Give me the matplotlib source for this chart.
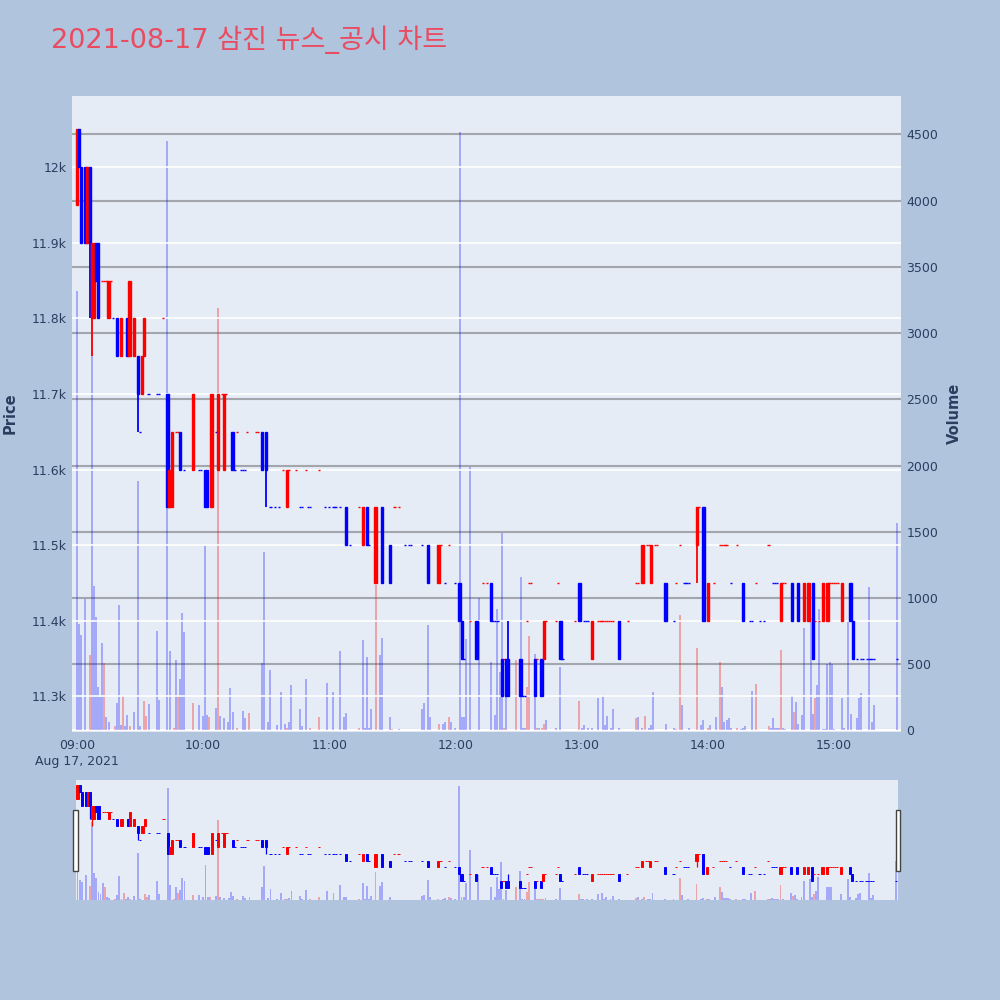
import matplotlib
matplotlib.use('Agg')
import matplotlib.pyplot as plt
from matplotlib.patches import Rectangle

plt.rcParams['font.family'] = ['DejaVu Sans', 'Noto Sans CJK KR']

## DATA (minutes after 09:00)
c_min = [0, 1, 2, 4, 5, 6, 7, 8, 9, 10,
         12, 13, 14, 15, 16, 17, 19, 21, 24, 25,
         27, 29, 30, 31, 32, 34, 38, 39, 41, 43,
         44, 45, 47, 48, 49, 51, 55, 58, 59, 61,
         62, 64, 66, 67, 69, 70, 71, 74, 75, 76,
         78, 79, 80, 81, 85, 86, 88, 90, 92, 94,
         96, 98, 100, 101, 104, 106, 107, 109, 110, 111,
         115, 118, 120, 122, 123, 125, 128, 130, 134, 136,
         138, 139, 142, 145, 149, 151, 153, 156, 158, 159,
         164, 167, 172, 173, 175, 177, 180, 182, 183, 184,
         187, 190, 193, 195, 197, 198, 199, 200, 202, 203,
         204, 205, 211, 212, 213, 214, 215, 216, 218, 219,
         221, 222, 223, 228, 229, 230, 231, 237, 239, 241,
         242, 243, 245, 248, 249, 250, 251, 252, 253, 254,
         255, 258, 262, 266, 267, 269, 271, 272, 273, 275,
         276, 280, 284, 285, 287, 289, 290, 291, 295, 296,
         298, 300, 303, 306, 307, 308, 309, 311, 314, 317,
         320, 321, 323, 325, 327, 329, 331, 332, 333, 335,
         336, 337, 340, 343, 346, 348, 350, 351, 353, 355,
         357, 358, 359, 360, 361, 362, 364, 368, 369, 371,
         373, 374, 376, 377, 378, 379, 390]
c_open = [11950, 12050, 12000, 12000, 11900, 12000, 11800, 11800, 11900, 11900,
          11850, 11850, 11850, 11800, 11850, 11800, 11800, 11750, 11800, 11750,
          11750, 11750, 11650, 11700, 11750, 11700, 11700, 11700, 11800, 11700,
          11550, 11550, 11650, 11650, 11650, 11600, 11600, 11600, 11600, 11600,
          11600, 11550, 11650, 11600, 11700, 11600, 11700, 11650, 11600, 11650,
          11600, 11600, 11600, 11650, 11650, 11650, 11650, 11650, 11550, 11550,
          11550, 11600, 11550, 11600, 11600, 11550, 11550, 11600, 11550, 11550,
          11600, 11550, 11550, 11550, 11550, 11550, 11550, 11500, 11550, 11500,
          11550, 11500, 11450, 11550, 11500, 11550, 11550, 11500, 11500, 11500,
          11500, 11500, 11450, 11500, 11450, 11500, 11450, 11450, 11400, 11350,
          11400, 11400, 11450, 11450, 11450, 11400, 11400, 11400, 11350, 11350,
          11350, 11350, 11350, 11300, 11300, 11400, 11450, 11450, 11350, 11350,
          11350, 11350, 11400, 11400, 11450, 11400, 11350, 11400, 11450, 11400,
          11400, 11400, 11350, 11400, 11400, 11400, 11400, 11400, 11400, 11400,
          11400, 11400, 11400, 11450, 11450, 11450, 11500, 11500, 11450, 11500,
          11500, 11450, 11400, 11450, 11500, 11450, 11450, 11450, 11500, 11550,
          11550, 11400, 11450, 11500, 11500, 11500, 11500, 11450, 11500, 11450,
          11400, 11400, 11450, 11400, 11400, 11500, 11450, 11450, 11450, 11400,
          11450, 11450, 11450, 11450, 11400, 11400, 11450, 11400, 11400, 11400,
          11400, 11450, 11450, 11450, 11450, 11450, 11400, 11450, 11400, 11350,
          11350, 11350, 11350, 11350, 11350, 11350, 11350]
c_close = [12050, 12000, 11900, 11900, 12000, 11900, 11900, 11900, 11850, 11800,
           11850, 11850, 11850, 11850, 11850, 11800, 11750, 11800, 11750, 11850,
           11800, 11700, 11650, 11750, 11800, 11700, 11700, 11700, 11800, 11550,
           11600, 11650, 11650, 11650, 11600, 11600, 11700, 11600, 11600, 11550,
           11550, 11700, 11650, 11700, 11700, 11700, 11700, 11600, 11600, 11650,
           11600, 11600, 11600, 11650, 11650, 11650, 11600, 11600, 11550, 11550,
           11550, 11600, 11600, 11600, 11600, 11550, 11550, 11600, 11550, 11550,
           11600, 11550, 11550, 11550, 11550, 11550, 11500, 11500, 11550, 11550,
           11500, 11500, 11550, 11450, 11450, 11550, 11550, 11500, 11500, 11500,
           11500, 11450, 11500, 11500, 11450, 11500, 11450, 11400, 11350, 11350,
           11400, 11350, 11450, 11450, 11400, 11400, 11400, 11400, 11300, 11350,
           11300, 11300, 11300, 11300, 11300, 11400, 11450, 11450, 11300, 11350,
           11300, 11400, 11400, 11400, 11450, 11350, 11350, 11400, 11400, 11400,
           11400, 11400, 11400, 11400, 11400, 11400, 11400, 11400, 11400, 11400,
           11400, 11350, 11400, 11450, 11450, 11500, 11500, 11500, 11500, 11500,
           11500, 11400, 11400, 11450, 11500, 11450, 11450, 11450, 11550, 11550,
           11400, 11450, 11450, 11500, 11500, 11500, 11500, 11450, 11500, 11400,
           11400, 11400, 11450, 11400, 11400, 11500, 11450, 11450, 11450, 11450,
           11450, 11450, 11400, 11400, 11450, 11450, 11350, 11400, 11400, 11450,
           11450, 11450, 11450, 11450, 11450, 11450, 11450, 11400, 11350, 11350,
           11350, 11350, 11350, 11350, 11350, 11350, 11350]

# candles whose wick reaches past the body
wick_min = [6, 7, 29, 90, 205, 295]
wick_high = [12000, 11900, 11750, 11650, 11400, 11550]
wick_low = [11800, 11750, 11650, 11550, 11300, 11450]

v_min = [0, 1, 2, 4, 6, 7, 8, 9, 10, 11, 12, 13, 14, 15, 18, 19, 20, 21, 22, 23,
         24, 25, 27, 29, 30, 32, 33, 34, 38, 39, 43, 44, 46, 47, 48, 49, 50, 51, 55, 58,
         60, 61, 62, 63, 66, 67, 68, 70, 72, 73, 74, 76, 79, 80, 82, 88, 89, 91, 92, 95,
         97, 99, 100, 101, 102, 106, 107, 109, 111, 115, 119, 122, 125, 127, 128, 134, 136, 137, 138, 139,
         140, 142, 144, 145, 149, 150, 153, 164, 165, 167, 168, 172, 174, 175, 177, 178, 180, 182, 183, 184,
         185, 187, 191, 197, 199, 200, 201, 202, 203, 204, 209, 211, 212, 213, 214, 215, 218, 219, 220, 221,
         222, 223, 228, 230, 239, 240, 241, 243, 245, 248, 250, 251, 252, 254, 255, 258, 266, 267, 269, 270,
         272, 273, 274, 280, 284, 285, 287, 288, 291, 295, 297, 298, 300, 301, 304, 306, 307, 308, 309, 310,
         311, 314, 316, 317, 318, 321, 323, 329, 330, 331, 332, 333, 334, 335, 336, 337, 340, 341, 342, 343,
         345, 346, 349, 350, 351, 352, 353, 355, 356, 357, 358, 359, 360, 362, 364, 365, 367, 368, 371, 372,
         373, 375, 377, 378, 379, 390]
v_val = [3318, 800, 720, 990, 570, 3090, 1090, 860, 330, 250, 660, 510, 105, 60, 30, 210, 950, 40, 260, 30,
         120, 30, 140, 1880, 30, 220, 110, 200, 750, 230, 4450, 600, 20, 530, 260, 390, 890, 740, 210, 190,
         110, 1390, 120, 100, 170, 3190, 110, 90, 60, 320, 140, 20, 150, 90, 130, 510, 1350, 60, 455, 40,
         290, 50, 20, 60, 340, 160, 30, 390, 20, 100, 355, 290, 600, 100, 135, 20, 680, 20, 555, 20,
         160, 1100, 570, 700, 100, 10, 10, 160, 210, 795, 100, 50, 50, 60, 100, 60, 20, 4520, 100, 100,
         690, 1990, 1000, 515, 120, 920, 440, 1490, 20, 380, 530, 1160, 20, 20, 330, 710, 575, 20, 20, 20,
         50, 80, 20, 475, 225, 20, 40, 20, 20, 245, 270, 40, 110, 20, 160, 20, 90, 100, 20, 110,
         20, 40, 290, 50, 20, 10, 870, 190, 20, 620, 40, 80, 20, 40, 100, 520, 330, 60, 80, 90,
         20, 20, 10, 20, 30, 295, 350, 30, 20, 95, 20, 20, 20, 610, 20, 10, 260, 140, 215, 50,
         117, 770, 850, 125, 245, 345, 915, 10, 10, 505, 513, 500, 10, 5, 245, 15, 815, 125, 92, 245,
         285, 5, 1080, 60, 195, 1565]
v_dir = ('bbbbrbbbbbbrbbrbbbrb'
         'brbbbrrbbbbbrbrbbbrb'
         'bbbrbrbbbbbrbbrbbbbb'
         'bbrbbbbbrrbbbbbrbbbb'
         'brbbbrbbbbbrbbrbbbbb'
         'bbbbbbbbrbrbbbrrbrbr'
         'rbbbrbbbbbbbbbbbrbbr'
         'bbbbbrrbbrbbrbbrbbbb'
         'brbbbbrrbbbbbrbbbrbb'
         'bbbbrbbbbbbbbbbbbbbb'
         'bbbbbb')

price_ticks = [11300, 11400, 11500, 11600, 11700, 11800, 11900, 12000]
price_labels = ['11.3k', '11.4k', '11.5k', '11.6k', '11.7k', '11.8k', '11.9k', '12k']
vol_ticks = [0, 500, 1000, 1500, 2000, 2500, 3000, 3500, 4000, 4500]
time_ticks = [0, 60, 120, 180, 240, 300, 360]
time_labels = ['09:00\nAug 17, 2021', '10:00', '11:00', '12:00', '13:00', '14:00', '15:00']

RED = '#ff0000'
BLUE = '#0000ff'
PAPER = '#b0c4de'
PLOT_BG = '#e5ecf6'
TEXT = '#2a3f5f'


def candle_dirs(opens, closes):
    # plotly style: flat candles take direction from previous close
    dirs = []
    prev = None
    for o, c in zip(opens, closes):
        if c > o:
            d = 1
        elif c < o:
            d = -1
        elif prev is None or c < prev:
            d = -1
        elif c > prev:
            d = 1
        else:
            d = dirs[-1]
        dirs.append(d)
        prev = c
    return dirs


def draw_chart(ax_p, ax_v, body_w, lw, vol_w):
    dirs = candle_dirs(c_open, c_close)
    colors = [RED if d > 0 else BLUE for d in dirs]
    vcolors = [(1, 0, 0, 0.3) if d == 'r' else (0, 0, 1, 0.28) for d in v_dir]
    ax_v.bar(v_min, v_val, width=vol_w, color=vcolors, linewidth=0, zorder=2)
    wc = [colors[c_min.index(m)] for m in wick_min]
    ax_p.vlines(wick_min, wick_low, wick_high, colors=wc, linewidth=lw * 1.3, zorder=3)
    heights = [c - o for o, c in zip(c_open, c_close)]
    ax_p.bar(c_min, heights, bottom=c_open, width=body_w, color=colors,
             edgecolor=colors, linewidth=lw, zorder=4)


fig = plt.figure(figsize=(10, 10), dpi=100, facecolor=PAPER)

# main chart
ax2 = fig.add_axes([0.072, 0.268, 0.829, 0.636])
ax = ax2.twinx()
ax2.set_facecolor(PLOT_BG)
ax.patch.set_visible(False)
ax.set_zorder(ax2.get_zorder() + 1)

draw_chart(ax, ax2, 1.05, 1.0, 0.95)

ax.set_xlim(-2.4, 392)
ax.set_ylim(11253, 12094)
ax2.set_ylim(-12, 4790)

# volume axis on the right, price on the left
ax2.yaxis.tick_right()
ax2.yaxis.set_label_position('right')
ax.yaxis.tick_left()
ax.yaxis.set_label_position('left')

ax.set_yticks(price_ticks)
ax.set_yticklabels(price_labels)
ax2.set_yticks(vol_ticks)
ax2.set_xticks(time_ticks)
ax2.set_xticklabels(time_labels, linespacing=1.35)

for a in (ax, ax2):
    for s in a.spines.values():
        s.set_visible(False)
    a.tick_params(length=0, labelsize=9, colors=TEXT, pad=4)
ax2.tick_params(axis='x', pad=5)

ax.grid(axis='y', color='white', linewidth=1.2, zorder=1)
ax2.grid(axis='y', color='#a3a6ad', linewidth=1.5, zorder=1)
ax2.grid(axis='x', visible=False)
ax.set_axisbelow(True)
ax2.set_axisbelow(True)
ax2.axhline(0, color='white', linewidth=1.5, zorder=1)

fig.text(0.051, 0.96, '2021-08-17 삼진 뉴스_공시 차트', fontsize=19.5, color='#e94b60',
         va='center', ha='left')
fig.text(0.010, 0.587, 'Price', rotation=90, fontsize=10.5, fontweight='bold',
         color=TEXT, va='center', ha='center')
fig.text(0.954, 0.587, 'Volume', rotation=90, fontsize=10.5, fontweight='bold',
         color=TEXT, va='center', ha='center')

# range slider
sl2 = fig.add_axes([0.076, 0.10, 0.822, 0.12])
sl = sl2.twinx()
sl2.set_facecolor(PLOT_BG)
sl.patch.set_visible(False)
sl.set_zorder(sl2.get_zorder() + 1)
draw_chart(sl, sl2, 1.0, 0.7, 0.9)
sl.set_xlim(-0.7, 391)
sl.set_ylim(11213, 12086)
sl2.set_ylim(0, 4760)
for a in (sl, sl2):
    a.set_xticks([])
    a.set_yticks([])
    for s in a.spines.values():
        s.set_visible(False)

for hx in (0.0733, 0.8963):
    fig.patches.append(Rectangle((hx, 0.129), 0.0042, 0.061, transform=fig.transFigure,
                                 facecolor='white', edgecolor='#444444', linewidth=1.0))

fig.savefig('out.png', dpi=100, facecolor=PAPER)
